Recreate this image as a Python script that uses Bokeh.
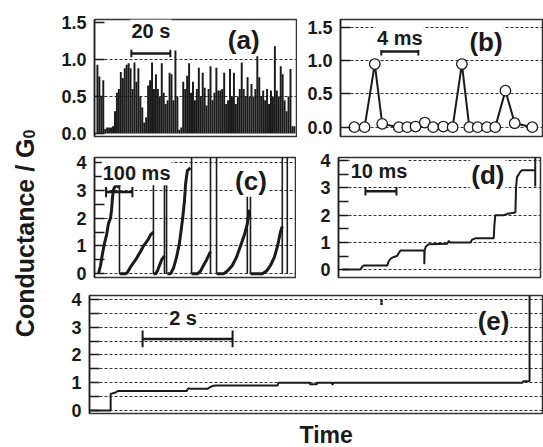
import math
from bokeh.plotting import figure
from bokeh.layouts import row, column
from bokeh.models import Label, FixedTicker, Range1d, PrintfTickFormatter, ColumnDataSource
from bokeh.embed import file_html
from bokeh.resources import INLINE
from bokeh.core.properties import value

FONT = "Liberation Sans"

# ---------------- data ----------------
# (a) long conductance record, one sample per second (s, G0)
a_time = list(range(102))
a_g = [0.93, 0.77, 0.5, 0.72, 0.06, 0.08, 0.08, 0.08, 0.1, 0.3,
       0.55, 0.6, 0.83, 0.75, 0.88, 0.93, 0.95, 0.88, 0.6, 0.96,
       0.7, 0.88, 0.5, 0.35, 0.15, 0.22, 0.65, 0.72, 0.96, 0.6,
       0.8, 0.6, 0.5, 0.95, 0.55, 0.4, 0.45, 0.82, 0.8, 0.45,
       1.12, 0.5, 0.05, 0.08, 0.7, 0.6, 0.78, 0.95, 0.55, 0.7,
       0.45, 0.6, 0.89, 0.5, 0.82, 0.62, 0.38, 0.6, 0.91, 0.45,
       0.55, 0.89, 0.58, 0.58, 0.6, 0.82, 0.4, 0.45, 0.87, 0.5,
       0.82, 0.4, 0.5, 0.6, 0.96, 0.6, 0.5, 0.76, 0.5, 0.67,
       0.5, 0.6, 1.06, 0.76, 0.5, 0.58, 0.45, 0.6, 0.4, 0.58,
       0.5, 1.18, 0.58, 0.5, 0.91, 0.8, 0.45, 0.3, 0.5, 0.87,
       0.1, 0.1]

# (b) sampled points (ms, G0)
b_time = [0, 1.1, 2.2, 3.0, 4.8, 5.7, 6.6, 7.6, 8.5, 9.6, 10.6, 11.6,
          12.4, 13.3, 14.3, 15.2, 16.3, 17.3, 19.2]
b_g = [0.0, 0.0, 0.95, 0.05, 0.0, 0.0, 0.01, 0.07, 0.0, 0.01, 0.0, 0.95,
       0.0, 0.0, 0.0, 0.0, 0.55, 0.06, 0.0]

# (c) rising traces (ms, G0) and the vertical jumps/drops
c_curves_t = [
    [15, 23, 30, 38, 46, 53, 61, 65, 68, 72, 76, 84, 91, 95],
    [95, 118, 125, 137, 156, 175, 186, 198, 205, 213, 224],
    [224, 232, 239, 247, 255, 266],
    [277, 289, 300, 312, 323, 334, 342, 346, 353, 365],
    [369, 391, 403, 414, 426, 441],
    [464, 490, 505, 524, 540, 555, 570, 581, 589],
    [593, 638, 654, 669, 684, 696, 707, 714],
]
c_curves_g = [
    [0, 0.3, 0.7, 1.1, 1.4, 1.8, 2.0, 2.3, 2.7, 3.0, 3.1, 3.2, 3.1, 3.2],
    [0, 0, 0.05, 0.25, 0.5, 0.8, 1.0, 1.15, 1.25, 1.4, 1.5],
    [0, 0, 0.1, 0.3, 0.5, 0.65],
    [0, 0, 0.2, 0.6, 1.1, 1.9, 2.6, 3.2, 3.7, 3.8],
    [0, 0, 0.1, 0.3, 0.5, 0.8],
    [0, 0, 0.1, 0.3, 0.6, 1.0, 1.4, 1.8, 2.3],
    [0, 0, 0.1, 0.3, 0.6, 1.0, 1.5, 1.7],
]
c_jump_t = [95, 224, 266, 274, 369, 441, 464, 581, 593, 714, 733]
c_jump_low = [0, 0, 0, 0, 0, 0, 0, 0, 0, 0, 0]
c_jump_high = [3.3, 3.2, 3.2, 3.2, 4.3, 4.3, 4.3, 3.0, 3.0, 4.3, 4.3]

# (d) staircase (ms, G0)
d_time = [1.2, 7.1, 7.6, 8.2, 15.7, 16.2, 16.8, 17.5, 18.9, 19.4,
          20.0, 27.7, 27.7, 27.8, 28.2, 29.1, 35.1, 35.6, 36.1, 42.6,
          43.1, 44.2, 50.1, 50.3, 50.6, 53.3, 54.5, 57.1, 57.3, 57.6,
          58.2, 58.7, 59.2, 63.0, 63.5]
d_g = [0, 0, 0.1, 0.15, 0.15, 0.3, 0.4, 0.45, 0.5, 0.6,
       0.7, 0.7, 0.2, 0.7, 0.85, 0.93, 0.95, 1.05, 1.0, 1.0,
       1.1, 1.15, 1.15, 1.6, 2.0, 2.0, 2.05, 2.1, 3.0, 3.4,
       3.5, 3.6, 3.65, 3.65, 3.65]
d_jump_t = [63.5]
d_jump_low = [3.05]
d_jump_high = [4.3]

# (e) long plateau (s, G0)
e_time = [0.02, 0.47, 0.47, 0.52, 0.58, 0.63, 2.16, 2.18, 2.2, 2.24,
          2.62, 2.67, 2.73, 2.8, 4.18, 4.2, 4.89, 4.9, 5.05, 5.07,
          5.39, 5.4, 5.42, 9.62, 9.64, 9.78, 9.78]
e_g = [0, 0, 0.6, 0.62, 0.65, 0.7, 0.7, 0.76, 0.8, 0.78,
       0.78, 0.83, 0.88, 0.9, 0.9, 1.0, 1.0, 0.95, 0.95, 1.0,
       1.0, 0.92, 1.0, 1.0, 1.05, 1.05, 4.3]
e_dot_t = [6.49, 6.49]
e_dot_g = [3.85, 3.95]

# ticks
frac_ticks = [0.0, 0.5, 1.0, 1.5]
int_ticks = [0, 1, 2, 3, 4]
half_ticks = [0.5, 1.5, 2.5, 3.5]
e_grid = [0, 0.5, 1, 1.5, 2, 2.5, 3, 3.5, 4]

# scale bars: start, end, level, cap half-height, text
a_bar = (17.4, 37.4, 1.08, 0.05, "20 s")
b_bar = (2.9, 6.9, 1.14, 0.06, "4 ms")
c_bar = (44, 144, 2.93, 0.18, "100 ms")
d_bar = (8.7, 18.7, 2.88, 0.16, "10 ms")
e_bar = (1.18, 3.18, 2.58, 0.3, "2 s")

BLACK = "#1a1a1a"


def panel(width, height, xr, yr, mb_left, mb_right, mb_top, mb_bottom,
          ticks, minor, grid_ticks, fmt=None):
    p = figure(width=width, height=height, x_range=Range1d(*xr), y_range=Range1d(*yr),
               toolbar_location=None, output_backend="svg",
               min_border_left=mb_left, min_border_right=mb_right,
               min_border_top=mb_top, min_border_bottom=mb_bottom)
    p.xaxis.visible = False
    p.xgrid.visible = False
    ax = p.yaxis[0]
    ax.ticker = FixedTicker(ticks=ticks, minor_ticks=minor)
    if fmt:
        ax.formatter = PrintfTickFormatter(format=fmt)
    ax.major_tick_in = 10
    ax.major_tick_out = 0
    ax.minor_tick_in = 10
    ax.minor_tick_out = 0
    ax.major_tick_line_width = 1.5
    ax.minor_tick_line_width = 1.5
    ax.major_tick_line_color = BLACK
    ax.minor_tick_line_color = BLACK
    ax.axis_line_width = 1.5
    ax.axis_line_color = BLACK
    ax.major_label_text_font = FONT
    ax.major_label_text_font_size = "18px"
    ax.major_label_text_font_style = "bold"
    ax.major_label_text_color = BLACK
    ax.major_label_standoff = 8
    p.ygrid.ticker = FixedTicker(ticks=grid_ticks)
    p.ygrid.grid_line_dash = "3 2"
    p.ygrid.grid_line_color = "#333333"
    p.ygrid.grid_line_width = 1
    p.outline_line_color = "#333333"
    p.outline_line_width = 1.5
    return p


def add_label(p, x, y, text, size):
    p.add_layout(Label(x=x, y=y, text=text, text_font=FONT, text_font_size=size,
                       text_font_style="bold", text_color=BLACK,
                       text_align="center", text_baseline="middle",
                       background_fill_color="white", padding=1))


def add_bar(p, bar, text_x, text_y):
    x0, x1, y, cap, txt = bar
    p.segment(x0=[x0], y0=[y], x1=[x1], y1=[y], line_width=2.5, line_color=BLACK)
    p.segment(x0=[x0, x1], y0=[y - cap, y - cap], x1=[x0, x1], y1=[y + cap, y + cap],
              line_width=2, line_color=BLACK)
    add_label(p, text_x, text_y, txt, "20px")


# ---------------- (a) ----------------
pa = panel(249, 146, (-1.5, 102.6), (-0.04, 1.54), 46, 0, 19, 10,
           frac_ticks, [], [0.5, 1.0], "%.1f")
pa.vbar(x=a_time, top=a_g, bottom=0, width=1.0, fill_color=BLACK, line_color=None)
add_bar(pa, a_bar, 27.4, 1.38)
add_label(pa, 75, 1.26, "(a)", "26px")

# ---------------- (b) ----------------
pb = panel(246, 146, (-1.5, 20.3), (-0.14, 1.62), 43, 1, 19, 9,
           frac_ticks, [], frac_ticks, "%.1f")
src_b = ColumnDataSource(data=dict(t=b_time, g=b_g))
pb.line("t", "g", source=src_b, line_width=2, line_color=BLACK)
pb.scatter("t", "g", source=src_b, marker="circle", size=10.5, fill_color="white",
           line_color=BLACK, line_width=1.3)
add_bar(pb, b_bar, 4.9, 1.34)
add_label(pb, 14.2, 1.28, "(b)", "26px")

# ---------------- (c) ----------------
pc = panel(248, 141, (0, 768), (-0.13, 4.17), 46, 0, 11, 10,
           int_ticks, half_ticks, int_ticks)
pc.segment(x0=c_jump_t, y0=c_jump_low, x1=c_jump_t, y1=c_jump_high,
           line_width=1.6, line_color=BLACK)
pc.multi_line(xs=c_curves_t, ys=c_curves_g, line_width=3, line_color=BLACK)
add_bar(pc, c_bar, 160, 3.61)
add_label(pc, 595, 3.34, "(c)", "26px")

# ---------------- (d) ----------------
pd = panel(247, 141, (0, 65.2), (-0.29, 4.12), 42, 3, 9, 7,
           int_ticks, half_ticks, int_ticks)
pd.line(d_time, d_g, line_width=2, line_color=BLACK)
pd.segment(x0=d_jump_t, y0=d_jump_low, x1=d_jump_t, y1=d_jump_high,
           line_width=2, line_color=BLACK)
add_bar(pd, d_bar, 13.1, 3.62)
add_label(pd, 48.2, 3.48, "(d)", "26px")

# ---------------- (e) ----------------
pe = panel(495, 134, (0, 10.09), (-0.108, 4.144), 41, 0, 8, 8,
           int_ticks, half_ticks, e_grid)
pe.line(e_time, e_g, line_width=2, line_color=BLACK)
pe.scatter(e_dot_t, e_dot_g, marker="square", size=2.5, fill_color=BLACK, line_color=None)
add_bar(pe, e_bar, 2.08, 3.33)
add_label(pe, 8.98, 3.22, "(e)", "26px")

# ---------------- shared axis titles ----------------
py = figure(width=48, height=447, x_range=Range1d(0, 48), y_range=Range1d(0, 447),
            toolbar_location=None, output_backend="svg", min_border=0)
py.axis.visible = False
py.grid.visible = False
py.outline_line_color = None
py.text(x=[24], y=[309], text=["Conductance / G"], angle=math.pi / 2,
        text_font=value(FONT), text_font_size="25px", text_font_style="bold",
        text_color=BLACK, text_align="right", text_baseline="alphabetic")
py.text(x=[28], y=[309], text=["0"], angle=math.pi / 2,
        text_font=value(FONT), text_font_size="16px", text_font_style="bold",
        text_color=BLACK, text_align="left", text_baseline="alphabetic")

pt = figure(width=495, height=26, x_range=Range1d(48, 543), y_range=Range1d(0, 26),
            toolbar_location=None, output_backend="svg", min_border=0)
pt.axis.visible = False
pt.grid.visible = False
pt.outline_line_color = None
pt.text(x=[306], y=[13], text=["Time"], text_font=value(FONT), text_font_size="23px",
        text_font_style="bold", text_color=BLACK, text_align="center",
        text_baseline="middle")

layout = row(py, column(row(pa, pb), row(pc, pd), pe, pt))

open("out.html", "w").write(file_html(layout, INLINE))
